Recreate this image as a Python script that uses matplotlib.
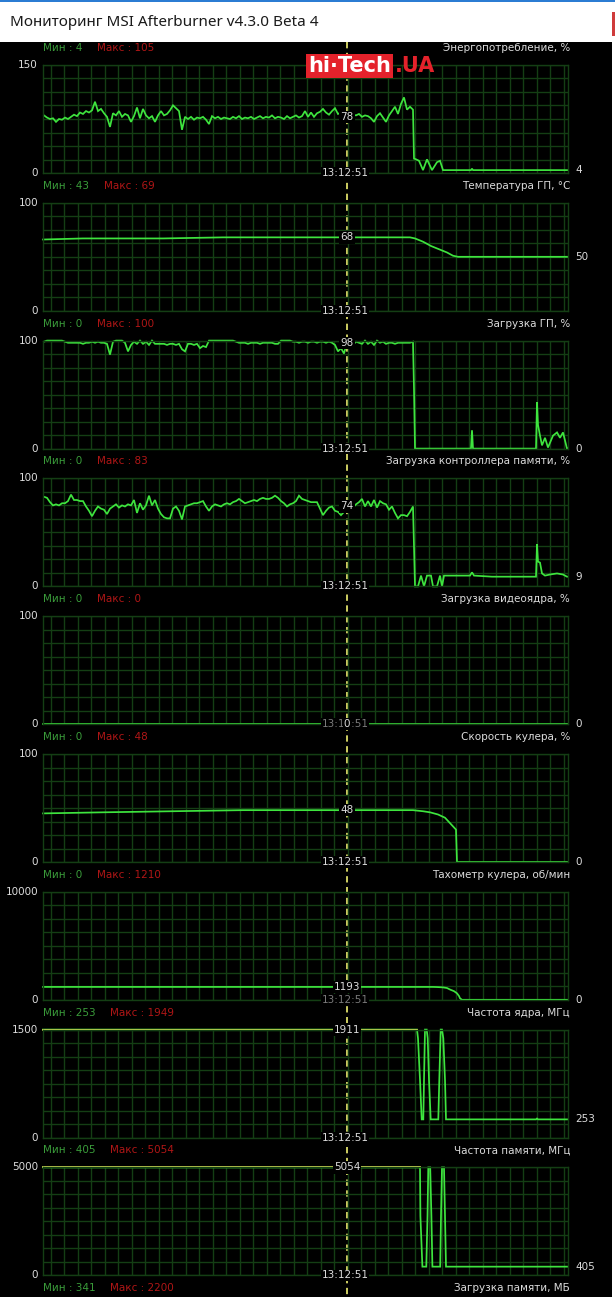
import numpy as np
import matplotlib
matplotlib.use("Agg")
import matplotlib.pyplot as plt
from matplotlib.patches import Rectangle

plt.rcParams['font.family'] = ['DejaVu Sans']

# ---------------------------------------------------------------- data
WINDOW_TITLE = "Мониторинг MSI Afterburner v4.3.0 Beta 4"
CURSOR_TIME = "13:12:51"

TITLES = ["Энергопотребление, %", "Температура ГП, °C", "Загрузка ГП, %",
          "Загрузка контроллера памяти, %", "Загрузка видеоядра, %",
          "Скорость кулера, %", "Тахометр кулера, об/мин",
          "Частота ядра, МГц", "Частота памяти, МГц"]
Y_MAX = [150, 100, 100, 100, 100, 100, 10000, 1500, 5000]
MIN_VALS = [4, 43, 0, 0, 0, 0, 0, 253, 405]
MAX_VALS = [105, 69, 100, 83, 0, 48, 1210, 1949, 5054]

NEXT_TITLE = "Загрузка памяти, МБ"
NEXT_MIN = 341
NEXT_MAX = 2200

# history samples: dense part is logged every 3 ticks starting at tick 1
CURSOR_T = 304
HISTORY_LEN = 525

POWER_DENSE = [80, 77, 75, 76, 71, 75, 74, 77, 75, 78,
               81, 79, 84, 82, 86, 84, 87, 99, 86, 89,
               83, 78, 64, 83, 80, 86, 78, 82, 80, 71,
               79, 91, 76, 89, 80, 76, 79, 71, 80, 86,
               80, 82, 87, 94, 90, 86, 60, 78, 75, 78,
               74, 77, 76, 78, 74, 68, 79, 76, 78, 75,
               77, 76, 75, 78, 76, 79, 75, 77, 76, 78,
               75, 77, 79, 76, 78, 77, 80, 76, 78, 77,
               75, 79, 76, 78, 80, 77, 79, 86, 78, 84,
               78, 83, 85, 89, 84, 81, 86, 90, 82, 84,
               80, 78, 79, 81, 80, 82, 78, 80, 79, 76,
               71, 79, 83, 77, 71, 80, 86, 92, 82, 96,
               105, 88, 92, 88]
POWER_TAIL_T = [371, 373, 376, 380, 384, 389, 394, 397, 400, 428, 429, 430, 525]
POWER_TAIL_V = [20, 19, 17, 4, 19, 4, 15, 17, 4, 4, 6, 4, 4]

TEMP_T = [0, 40, 120, 180, 367, 372, 380, 388, 396, 404, 410, 415, 525]
TEMP_V = [66, 67, 67, 68, 68, 67, 64, 60, 57, 54, 51, 50, 50]

GPU_DENSE = [99, 100, 100, 100, 100, 100, 100, 99, 98, 98,
             98, 98, 98, 97, 98, 98, 99, 98, 99, 98,
             98, 97, 87, 99, 100, 100, 100, 98, 90, 96,
             99, 97, 100, 97, 99, 96, 100, 97, 97, 97,
             97, 96, 97, 97, 96, 97, 92, 90, 97, 97,
             96, 97, 93, 95, 94, 100, 100, 100, 100, 100,
             100, 100, 100, 100, 99, 98, 98, 98, 97, 98,
             98, 98, 97, 98, 98, 98, 98, 97, 97, 100,
             100, 100, 100, 99, 99, 98, 99, 99, 98, 99,
             99, 98, 99, 99, 98, 99, 98, 96, 90, 93,
             88, 98, 97, 96, 99, 98, 97, 100, 97, 99,
             96, 100, 98, 99, 97, 98, 98, 97, 98, 98,
             98, 98, 98, 99]
GPU_TAIL_T = [371, 372, 428, 429, 430, 493, 494, 495, 497, 499, 502, 505,
              510, 514, 517, 520, 524, 525]
GPU_TAIL_V = [55, 0, 0, 17, 0, 0, 43, 22, 12, 3, 10, 1, 12, 15, 10, 15, 0, 0]

MC_DENSE = [83, 82, 78, 75, 76, 75, 77, 77, 79, 85,
            80, 80, 79, 79, 74, 70, 65, 70, 74, 72,
            71, 67, 72, 74, 76, 73, 75, 74, 76, 75,
            80, 68, 77, 71, 75, 84, 75, 80, 72, 67,
            64, 63, 63, 72, 74, 70, 62, 74, 75, 76,
            77, 77, 78, 79, 74, 70, 74, 76, 75, 74,
            76, 77, 76, 78, 79, 81, 79, 77, 78, 79,
            80, 79, 81, 82, 81, 81, 82, 84, 82, 79,
            77, 74, 76, 77, 79, 84, 81, 80, 79, 78,
            78, 78, 72, 66, 70, 73, 74, 70, 69, 66,
            69, 74, 75, 73, 76, 78, 81, 74, 79, 74,
            80, 73, 79, 77, 76, 71, 74, 68, 63, 66,
            66, 65, 69, 74]
MC_TAIL_T = [371, 372, 375, 378, 381, 384, 388, 390, 394, 397, 399, 401, 427,
             429, 431, 449, 493, 494, 495, 497, 499, 502, 507, 514, 520, 524, 525]
MC_TAIL_V = [37, 0, 0, 10, 0, 10, 10, 0, 0, 10, 0, 10, 10,
             13, 10, 9, 9, 39, 23, 22, 12, 10, 11, 12, 11, 9, 9]

VIDEO_T = [0, 525]
VIDEO_V = [0, 0]

FAN_T = [0, 60, 130, 200, 370, 380, 387, 395, 402, 409, 413, 414, 525]
FAN_V = [45, 46, 47, 48, 48, 47, 46, 44, 41, 34, 30, 0, 0]

TACHO_T = [0, 390, 394, 400, 404, 407, 411, 414, 416, 417, 419, 525]
TACHO_V = [1193, 1193, 1180, 1150, 1090, 950, 800, 600, 350, 140, 0, 0]

CORE_T = [0, 374, 375, 377, 378.7, 380.3, 381, 382, 383.7, 384.7, 386, 387.7,
          395.3, 396.3, 397.7, 399, 400.3, 402, 403, 493, 494, 495, 525]
CORE_V = [1911, 1911, 1380, 800, 253, 253, 800, 1500, 1500, 1380, 800, 253,
          253, 800, 1500, 1500, 1380, 800, 253, 253, 265, 253, 253]

MEM_T = [0, 377, 377.4, 379.4, 383.3, 384.5, 385.3, 387.2, 388.4, 389.4,
         397.2, 398, 399, 401, 402, 403, 525]
MEM_V = [5054, 5054, 2750, 405, 405, 2750, 5000, 5000, 2750, 405,
         405, 2750, 5000, 5000, 2750, 405, 405]


def dense_series(dense, tail_t, tail_v):
    t = [1 + 3 * i for i in range(len(dense))] + list(tail_t)
    return np.array(t, float), np.array(list(dense) + list(tail_v), float)


SERIES = [
    dense_series(POWER_DENSE, POWER_TAIL_T, POWER_TAIL_V),
    (np.array(TEMP_T, float), np.array(TEMP_V, float)),
    dense_series(GPU_DENSE, GPU_TAIL_T, GPU_TAIL_V),
    dense_series(MC_DENSE, MC_TAIL_T, MC_TAIL_V),
    (np.array(VIDEO_T, float), np.array(VIDEO_V, float)),
    (np.array(FAN_T, float), np.array(FAN_V, float)),
    (np.array(TACHO_T, float), np.array(TACHO_V, float)),
    (np.array(CORE_T, float), np.array(CORE_V, float)),
    (np.array(MEM_T, float), np.array(MEM_V, float)),
]

# ---------------------------------------------------------------- style
W, H = 615, 1297
PLOT_X0, PLOT_W = 43, 525
PANEL_TOP0, PANEL_PITCH, PANEL_H = 65, 137.8, 108

BLACK = '#000000'
GRID = '#143e14'
GREEN = '#3ee43e'
YELLOW = '#e4e45a'
MIN_COL = '#3a9c3a'
MAX_COL = '#b01616'
TXT = '#dcdcdc'
DIM = '#7a7a7a'
FS = 7.5

fig = plt.figure(figsize=(W / 100, H / 100), dpi=100)
fig.patch.set_facecolor('white')

# window background, caption and cursor line
bg = fig.add_axes([0, 0, 1, 1], zorder=0)
bg.set_xlim(0, W)
bg.set_ylim(H, 0)
bg.axis('off')
bg.add_patch(Rectangle((0, 42), 612, H - 42, color=BLACK, lw=0))
bg.add_patch(Rectangle((0, 0), W, 1.5, color='#2b7cd3', lw=0))
bg.add_patch(Rectangle((612, 12), 3, 24, color='#cf3b3b', lw=0))
bg.text(10, 22, WINDOW_TITLE, fontsize=11, family=['Noto Sans', 'DejaVu Sans'],
        color='#1a1a1a', va='center', ha='left')
cursor_px = PLOT_X0 + CURSOR_T
bg.plot([cursor_px, cursor_px], [42, H], color='#dede6a', lw=1.3,
        dashes=(3.5, 2.5))


def px_to_axes(ax_top, px, py):
    return (px - PLOT_X0) / PLOT_W, (ax_top + PANEL_H - py) / PANEL_H


ax = None
for i, (t, v) in enumerate(SERIES):
    top = PANEL_TOP0 + PANEL_PITCH * i
    ymax = Y_MAX[i]
    ax = fig.add_axes([PLOT_X0 / W, 1 - (top + PANEL_H) / H, PLOT_W / W, PANEL_H / H],
                      zorder=1)
    ax.set_facecolor('none')
    ax.set_xlim(0, HISTORY_LEN)
    ax.set_ylim(0, ymax)
    ax.set_xticks(np.arange(7.7, HISTORY_LEN, 13.5))
    ax.set_yticks(np.linspace(0, ymax, 9))
    ax.grid(True, color=GRID, lw=1.0)
    ax.tick_params(length=0, labelleft=False, labelbottom=False)
    for sp in ax.spines.values():
        sp.set_color(GRID)
        sp.set_linewidth(1.0)

    shown = np.minimum(v, ymax)
    ax.plot(t, shown, color=GREEN, lw=1.25, clip_on=False, zorder=2,
            solid_joinstyle='miter')
    over = np.where(v > ymax, ymax, np.nan)
    if np.any(~np.isnan(over)):
        ax.plot(t, over, color=YELLOW, lw=1.25, clip_on=False, zorder=2.1)

    # value scale
    ax.text(-5, ymax, f"{ymax}", color=TXT, fontsize=FS, ha='right', va='center',
            clip_on=False)
    ax.text(-5, 0, "0", color=TXT, fontsize=FS, ha='right', va='center',
            clip_on=False)

    # header: min / max and the graph name
    hx, hy = px_to_axes(top, 43, top - 17)
    mt = ax.text(hx, hy, f"Мин : {MIN_VALS[i]}", color=MIN_COL, fontsize=FS,
                 ha='left', va='center', transform=ax.transAxes, clip_on=False)
    ax.annotate(f"Макс : {MAX_VALS[i]}", xy=(1, 0.5), xycoords=mt,
                xytext=(10.5, 0), textcoords='offset points', color=MAX_COL,
                fontsize=FS, ha='left', va='center', annotation_clip=False)
    tx, _ = px_to_axes(top, 570, 0)
    ax.text(tx, hy, TITLES[i], color=TXT, fontsize=FS, ha='right', va='center',
            transform=ax.transAxes, clip_on=False)

    # cursor readout
    cur = float(np.interp(CURSOR_T, t, v))
    time_col = DIM if cur / ymax < 0.15 else TXT
    ax.text(CURSOR_T - 2, 0, CURSOR_TIME, color=time_col, fontsize=FS,
            ha='center', va='center', clip_on=False, zorder=5,
            bbox=dict(fc=BLACK, ec='none', pad=0.6))
    ax.text(CURSOR_T, min(cur, ymax), f"{cur:.0f}", color=TXT, fontsize=FS,
            ha='center', va='center', clip_on=False, zorder=6,
            bbox=dict(fc=BLACK, ec='none', pad=0.8))

    # latest value
    ax.text(HISTORY_LEN + 7, min(v[-1], ymax), f"{v[-1]:.0f}", color=TXT,
            fontsize=FS, ha='left', va='center', clip_on=False)

# header of the next graph, scrolled below the window edge
top_next = PANEL_TOP0 + PANEL_PITCH * 9
nx, ny = px_to_axes(top_next - PANEL_PITCH, 43, top_next - 17)
nt = ax.text(nx, ny, f"Мин : {NEXT_MIN}", color=MIN_COL, fontsize=FS,
             ha='left', va='center', transform=ax.transAxes, clip_on=False)
ax.annotate(f"Макс : {NEXT_MAX}", xy=(1, 0.5), xycoords=nt,
            xytext=(10.5, 0), textcoords='offset points', color=MAX_COL,
            fontsize=FS, ha='left', va='center', annotation_clip=False)
rx, _ = px_to_axes(top_next, 570, 0)
ax.text(rx, ny, NEXT_TITLE, color=TXT, fontsize=FS, ha='right', va='center',
        transform=ax.transAxes, clip_on=False)

# site badge
badge = fig.text(308 / W, 1 - 66 / H, "hi·Tech", color='white', fontsize=15,
                 fontweight='bold', ha='left', va='center',
                 bbox=dict(fc='#e4222b', ec='none', pad=1.5))
ax.annotate(".UA", xy=(1, 0.5), xycoords=badge, xytext=(3, 0),
            textcoords='offset points', color='#e4222b', fontsize=15,
            fontweight='bold', ha='left', va='center', annotation_clip=False)

fig.savefig("out.png", dpi=100, facecolor=fig.get_facecolor())
